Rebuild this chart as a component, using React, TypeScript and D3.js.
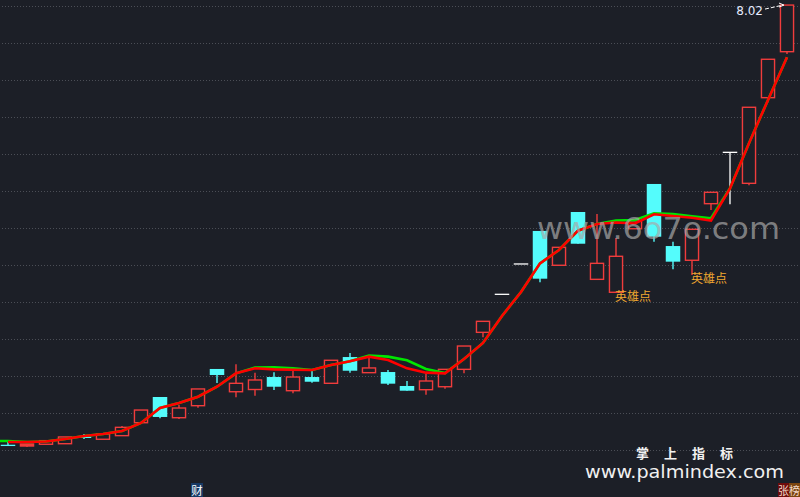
import React from 'react';
import * as d3 from 'd3';

const W = 800;
const H = 497;

const opens = [3.267, 3.253, 3.272, 3.278, 3.354, 3.326, 3.365, 3.505, 3.783, 3.559, 3.689, 4.086, 3.840, 3.864, 3.999, 3.851, 3.999, 3.931, 4.215, 4.046, 4.053, 3.902, 3.862, 3.894, 4.082, 4.482, 4.893, 5.221, 5.578, 5.207, 5.783, 5.055, 4.915, 5.602, 6.086, 5.415, 5.261, 5.873, 6.428, 6.093, 7.019, 7.516];
const highs = [3.297, 3.275, 3.311, 3.351, 3.383, 3.383, 3.470, 3.642, 3.783, 3.697, 3.870, 4.086, 4.137, 4.046, 4.050, 4.104, 4.064, 4.180, 4.259, 4.219, 4.075, 3.956, 4.035, 4.082, 4.334, 4.601, 4.893, 5.221, 5.578, 5.401, 5.783, 5.761, 5.502, 5.686, 6.086, 5.462, 5.596, 5.996, 6.428, 6.915, 7.434, 8.02];
const lows = [3.261, 3.242, 3.272, 3.278, 3.329, 3.326, 3.365, 3.505, 3.553, 3.545, 3.667, 3.934, 3.780, 3.797, 3.859, 3.823, 3.938, 3.931, 4.046, 4.046, 3.913, 3.851, 3.808, 3.873, 4.039, 4.428, 4.893, 5.221, 5.023, 5.207, 5.440, 5.055, 4.915, 5.602, 5.462, 5.164, 5.102, 5.805, 5.866, 6.072, 6.969, 7.491];
const closes = [3.261, 3.275, 3.311, 3.351, 3.343, 3.383, 3.455, 3.642, 3.567, 3.664, 3.870, 4.021, 3.931, 3.967, 3.894, 3.999, 3.948, 4.180, 4.067, 4.097, 3.927, 3.851, 3.956, 4.082, 4.334, 4.601, 4.893, 5.221, 5.062, 5.401, 5.440, 5.228, 5.304, 5.686, 5.516, 5.246, 5.596, 5.996, 6.428, 6.915, 7.434, 8.02];

const maRed = [3.297, 3.297, 3.302, 3.329, 3.361, 3.383, 3.415, 3.502, 3.664, 3.718, 3.786, 3.894, 4.039, 4.093, 4.082, 4.078, 4.075, 4.129, 4.169, 4.219, 4.183, 4.093, 4.046, 4.039, 4.194, 4.367, 4.659, 4.918, 5.228, 5.372, 5.581, 5.653, 5.670, 5.659, 5.758, 5.740, 5.721, 5.691, 6.039, 6.526, 6.994, 7.455];
const maGreen = [3.307, 3.297, 3.302, 3.329, 3.361, 3.383, 3.415, 3.502, 3.664, 3.718, 3.786, 3.894, 4.039, 4.102, 4.104, 4.093, 4.075, 4.129, 4.169, 4.232, 4.219, 4.180, 4.086, 4.042, 4.194, 4.367, 4.659, 4.918, 5.228, 5.372, 5.581, 5.653, 5.691, 5.696, 5.769, 5.761, 5.737, 5.715, 6.039, 6.526, 6.994, 7.455];

const gridLevels = [3.21, 3.61, 4.01, 4.41, 4.81, 5.21, 5.61, 6.01, 6.41, 6.81, 7.21, 7.61, 8.01];

const heroIdx = [32, 36];
const heroText = '英雄点';
const lastPriceLabel = '8.02';

const BG = '#1c1f27';
const RED = '#f03c3c';
const CYAN = '#54fcfc';

export default function App() {
  const n = closes.length;
  const x = d3.scaleLinear().domain([0, n - 1]).range([8, 787]);
  const y = d3.scaleLinear().domain([3.21, 8.01]).range([450, 6]);
  const bw = 14.5;

  const line = d3
    .line<number>()
    .x((_, i) => x(i))
    .y((d) => y(d));

  const greenPath = `M0,${y(maGreen[0])}L` + (line(maGreen) as string).slice(1);

  const candles = closes.map((c, i) => {
    const o = opens[i];
    const cx = x(i);
    const yh = y(highs[i]);
    const yl = y(lows[i]);
    if (Math.abs(c - o) < 1e-9) {
      const yo = y(o);
      return (
        <g key={i} stroke="#ffffff" strokeWidth={1.3}>
          <line x1={cx - bw / 2} x2={cx + bw / 2} y1={yo} y2={yo} />
          {yl - yh > 0.5 && <line x1={cx} x2={cx} y1={yh} y2={yl} />}
        </g>
      );
    }
    if (c > o) {
      const top = y(c);
      const bot = y(o);
      const h = bot - top;
      return (
        <g key={i} stroke={RED} strokeWidth={1.4}>
          {top - yh > 0.5 && <line x1={cx} x2={cx} y1={yh} y2={top} />}
          {yl - bot > 0.5 && <line x1={cx} x2={cx} y1={bot} y2={yl} />}
          <rect x={cx - bw / 2 + 0.7} y={top} width={bw - 1.4} height={Math.max(h, 0.8)} fill={h < 3 ? RED : BG} />
        </g>
      );
    }
    const top = y(o);
    const bot = y(c);
    return (
      <g key={i}>
        <line x1={cx} x2={cx} y1={yh} y2={yl} stroke={CYAN} strokeWidth={1.4} />
        <rect x={cx - bw / 2} y={top} width={bw} height={Math.max(bot - top, 1.3)} fill={CYAN} />
      </g>
    );
  });

  const lastX = x(n - 1);
  const lastY = y(highs[n - 1]);

  return (
    <div style={{ position: 'fixed', left: 0, top: 0, width: W, height: H }}>
      <svg width={W} height={H} style={{ display: 'block' }}>
        <rect width={W} height={H} fill={BG} />
        {gridLevels.map((g) => (
          <line key={g} x1={2} x2={W} y1={Math.round(y(g)) + 0.5} y2={Math.round(y(g)) + 0.5} stroke="#4b4e56" strokeWidth={1} strokeDasharray="1 2" />
        ))}
        {candles}
        <path d={greenPath} fill="none" stroke="#00e600" strokeWidth={2.6} />
        <path d={line(maRed) as string} fill="none" stroke="#ff0000" strokeWidth={2.6} />
        {heroIdx.map((i) => (
          <text key={i} x={x(i) - 1} y={y(lows[i]) + 8.5} fontSize={12} fill="#f0a830" fontFamily="'Noto Sans CJK SC', sans-serif">
            {heroText}
          </text>
        ))}
        <text x={lastX - 24} y={lastY + 10} fontSize={12} fill="#e6ecff" fontFamily="'DejaVu Sans', sans-serif" textAnchor="end">
          {lastPriceLabel}
        </text>
        <line x1={lastX - 22} y1={lastY + 4} x2={lastX - 4} y2={lastY} stroke="#ffffff" strokeWidth={1} strokeDasharray="4 2" />
        <path d={`M${lastX - 8},${lastY - 2} L${lastX - 3},${lastY} L${lastX - 8},${lastY + 2}`} fill="none" stroke="#ffffff" strokeWidth={1} />
        <text x={537} y={239} fontSize={31} fill="#a8a8a8" fillOpacity={0.7} fontFamily="'DejaVu Sans', sans-serif" textLength={243} lengthAdjust="spacingAndGlyphs">
          www.6o7o.com
        </text>
        <text x={636} y={457.5} fontSize={13} fontWeight="bold" fill="#f2f2f2" fontFamily="'Noto Sans CJK SC', sans-serif" textLength={97} lengthAdjust="spacing">
          掌 上 指 标
        </text>
        <text x={585} y={478} fontSize={18} fill="#f0f0f0" fontFamily="'DejaVu Sans', sans-serif" textLength={199} lengthAdjust="spacingAndGlyphs">
          www.palmindex.com
        </text>
        <rect x={191} y={483} width={12} height={14} fill="#173a66" />
        <text x={197} y={494.5} fontSize={11.5} fill="#ffffff" textAnchor="middle" fontFamily="'Noto Sans CJK SC', sans-serif">
          财
        </text>
        <rect x={778} y={483} width={11} height={14} fill="#6e0c0c" />
        <rect x={789} y={483} width={11} height={14} fill="#7a4510" />
        <text x={778} y={494.5} fontSize={11} fill="#f3d8c8" fontFamily="'Noto Sans CJK SC', sans-serif">
          张榜
        </text>
      </svg>
    </div>
  );
}
